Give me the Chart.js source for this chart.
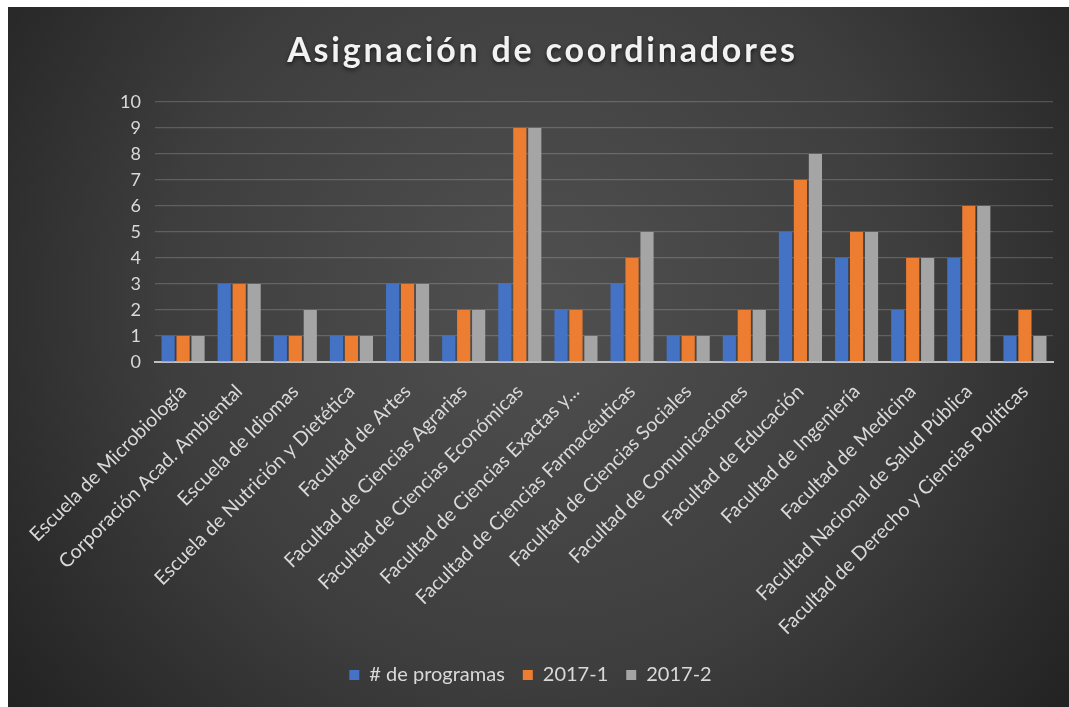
<!DOCTYPE html>
<html>
<head>
<meta charset="utf-8">
<script src="https://cdn.jsdelivr.net/npm/chart.js@4.4.1/dist/chart.umd.min.js"></script>
<style>
  html, body { margin: 0; padding: 0; background: #fff; }
  #wrap { position: absolute; left: 8px; top: 7px; width: 1061px; height: 700px; }
</style>
</head>
<body>
<div id="wrap"><canvas id="chart"></canvas></div>
<script>
var categories = [
  'Escuela de Microbiología',
  'Corporación Acad. Ambiental',
  'Escuela de Idiomas',
  'Escuela de Nutrición y Dietética',
  'Facultad de Artes',
  'Facultad de Ciencias Agrarias',
  'Facultad de Ciencias Económicas',
  'Facultad de Ciencias Exactas y...',
  'Facultad de Ciencias Farmacéuticas',
  'Facultad de Ciencias Sociales',
  'Facultad de Comunicaciones',
  'Facultad de Educación',
  'Facultad de Ingeniería',
  'Facultad de Medicina',
  'Facultad Nacional de Salud Pública',
  'Facultad de Derecho y Ciencias Políticas'
];
var programas = [1, 3, 1, 1, 3, 1, 3, 2, 3, 1, 1, 5, 4, 2, 4, 1];
var s2017_1 = [1, 3, 1, 1, 3, 2, 9, 2, 4, 1, 2, 7, 5, 4, 6, 2];
var s2017_2 = [1, 3, 2, 1, 3, 2, 9, 1, 5, 1, 2, 8, 5, 4, 6, 1];
var seriesNames = ['# de programas', '2017-1', '2017-2'];
var titleText = 'Asignación de coordinadores';

var FONT = 'Lato, "Open Sans", sans-serif';

// background + title, drawn around the chart
var decor = {
  id: 'decor',
  beforeDraw: function (chart) {
    var ctx = chart.ctx, w = chart.width, h = chart.height;
    ctx.save();
    var g = ctx.createRadialGradient(w * 0.5, h * 0.42, 20, w * 0.5, h * 0.42, w * 0.62);
    g.addColorStop(0, '#4f4f4f');
    g.addColorStop(0.55, '#3e3e3e');
    g.addColorStop(1, '#232323');
    ctx.fillStyle = g;
    ctx.fillRect(0, 0, w, h);
    ctx.restore();
  },
  afterDraw: function (chart) {
    var ctx = chart.ctx;
    ctx.save();
    ctx.font = 'bold 34px ' + FONT;
    if ('letterSpacing' in ctx) ctx.letterSpacing = '2.8px';
    ctx.textAlign = 'center';
    ctx.textBaseline = 'middle';
    ctx.shadowColor = 'rgba(0,0,0,0.6)';
    ctx.shadowBlur = 4;
    ctx.shadowOffsetY = 2;
    ctx.fillStyle = '#f2f2f2';
    ctx.fillText(titleText, chart.width / 2 + 4, 44);
    ctx.restore();
  }
};

new Chart(document.getElementById('chart'), {
  type: 'bar',
  data: {
    labels: categories,
    datasets: [
      { label: seriesNames[0], data: programas, backgroundColor: '#4472c4' },
      { label: seriesNames[1], data: s2017_1, backgroundColor: '#ed7d31' },
      { label: seriesNames[2], data: s2017_2, backgroundColor: '#a5a5a5' }
    ]
  },
  options: {
    responsive: true,
    maintainAspectRatio: false,
    animation: false,
    layout: { padding: { top: 95, right: 16, bottom: 12, left: 0 } },
    datasets: { bar: { categoryPercentage: 0.8, barPercentage: 0.88 } },
    plugins: {
      title: { display: false },
      tooltip: { enabled: false },
      legend: {
        position: 'bottom',
        labels: {
          color: '#d9d9d9',
          font: { family: FONT, size: 20 },
          boxWidth: 10,
          boxHeight: 10,
          padding: 18
        }
      }
    },
    scales: {
      x: {
        grid: { display: false },
        border: { color: '#bfbfbf', width: 2 },
        ticks: {
          color: '#d9d9d9',
          font: { family: FONT, size: 19.5 },
          minRotation: 45,
          maxRotation: 45,
          autoSkip: false,
          padding: 10
        },
        afterFit: function (scale) { scale.height = 285; }
      },
      y: {
        min: 0,
        max: 10,
        border: { display: false },
        grid: { color: 'rgba(255,255,255,0.18)', lineWidth: 1.3, drawTicks: false },
        ticks: {
          stepSize: 1,
          color: '#d9d9d9',
          font: { family: FONT, size: 18 },
          padding: 14
        },
        afterFit: function (scale) { scale.width = 147; }
      }
    }
  },
  plugins: [decor]
});
</script>
</body>
</html>
